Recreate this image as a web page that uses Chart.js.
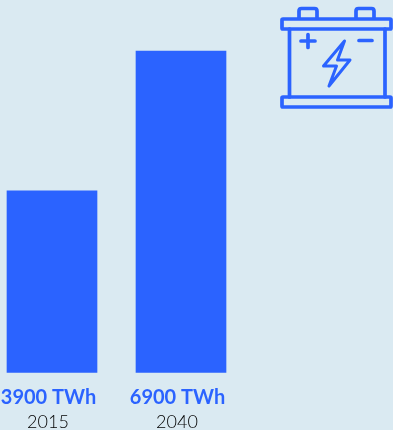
<!DOCTYPE html>
<html>
<head>
<meta charset="utf-8">
<script src="https://cdn.jsdelivr.net/npm/chart.js@4"></script>
<style>
    html, body { margin: 0; padding: 0; background: #daeaf2; overflow: hidden; }
    #wrap { position: relative; width: 393px; height: 430px; }
    #icon { position: absolute; left: 0; top: 0; }
</style>
</head>
<body>
<div id="wrap">
    <canvas id="barChart" width="393" height="430"></canvas>
    <svg id="icon" width="393" height="430" fill="none" stroke="#2b63ff" stroke-width="3.7" stroke-linejoin="round" stroke-linecap="round">
        <rect x="282" y="19" width="109" height="10" rx="1"/>
        <path d="M299 18v-7q0-2.500 2.500-2.500h13q2.500 0 2.500 2.500v7"/>
        <path d="M356 18v-7q0-2.500 2.500-2.500h13q2.500 0 2.500 2.500v7"/>
        <path d="M289.500 29v68M385 29v68"/>
        <rect x="282" y="97" width="109" height="10" rx="1"/>
        <path d="M301 41h14M308 34.500v13M359 40.500h13"/>
        <path d="M344.500 41l-21 25h13l-7.500 20 21-26h-12.500z" stroke-width="3"/>
    </svg>
</div>
<script>
const categories = ['2015', '2040'];
const values = [3900, 6900];
const unit = 'TWh';

const blue = '#2b63ff';

// value captions sit between the bar and the year
const valueLabels = {
    id: 'valueLabels',
    afterDraw: chart => {
        const ctx = chart.ctx;
        const xAxis = chart.scales.x;
        ctx.save();
        ctx.font = "700 20px 'Lato', sans-serif";
        ctx.fillStyle = blue;
        ctx.textAlign = 'center';
        ctx.textBaseline = 'middle';
        values.forEach((v, i) => {
            ctx.fillText(v + ' ' + unit, xAxis.getPixelForTick(i) - 3.5, 398);
        });
        ctx.restore();
    }
};

new Chart(document.getElementById('barChart'), {
    type: 'bar',
    data: {
        labels: categories,
        datasets: [{
            data: values,
            backgroundColor: blue,
            barThickness: 90,
            clip: false
        }]
    },
    options: {
        responsive: false,
        animation: false,
        layout: { padding: { left: 52, right: 212, top: 51, bottom: 0 } },
        plugins: { legend: { display: false }, tooltip: { enabled: false } },
        scales: {
            x: {
                offset: false,
                grid: { display: false, drawTicks: false },
                border: { display: false },
                afterFit: axis => {
                    axis.height = 57.5;
                    axis.paddingLeft = 0;
                    axis.paddingRight = 0;
                },
                ticks: {
                    padding: 39,
                    labelOffset: -4,
                    color: '#000000',
                    maxRotation: 0,
                    autoSkip: false,
                    font: { family: "'Lato', sans-serif", size: 18, weight: '300' }
                }
            },
            y: { display: false, min: 0, max: 6900 }
        }
    },
    plugins: [valueLabels]
});
</script>
</body>
</html>
